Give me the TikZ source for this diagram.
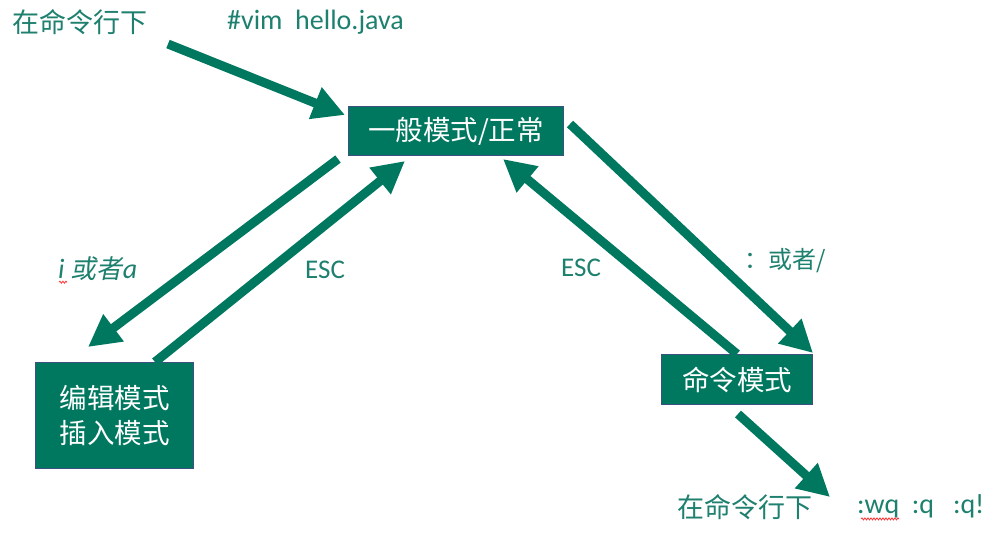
\documentclass[tikz,border=0pt]{standalone}
\usepackage{fontspec}
\setmainfont{Carlito}
\newfontfamily\cjk{Noto Sans CJK SC}
\newfontfamily\cjkit{Noto Sans CJK SC}[FakeSlant=0.2]
\usetikzlibrary{arrows.meta,decorations.pathmorphing,calc}
\definecolor{teal1}{RGB}{0,120,96}
\definecolor{txt}{RGB}{30,128,110}
\definecolor{edge}{RGB}{60,80,130}
\tikzset{
  modebox/.style={draw=edge, line width=1pt, fill=teal1, text=white, inner sep=0pt, anchor=north west},
  bigarrow/.style={draw=teal1, line width=9pt, -{Triangle[length=32pt,width=32pt]}},
  lbl/.style={text=txt, inner sep=0pt, anchor=west},
  squig/.style={draw=red!80, line width=0.8pt, decorate, decoration={snake, amplitude=1pt, segment length=3pt}}
}
\begin{document}
\begin{tikzpicture}[x=1pt,y=-1pt]
\path[use as bounding box, fill=white] (0,0) rectangle (999,536);

% boxes
\node[modebox, minimum width=215pt, minimum height=49pt, font=\cjk\fontsize{27.5}{30}\selectfont] (gen) at (348,106) {一般模式/正常};
\node[modebox, minimum width=158pt, minimum height=106pt, align=center, font=\cjk\fontsize{27.5}{35}\selectfont] (edit) at (35,362) {编辑模式\\插入模式};
\node[modebox, minimum width=151pt, minimum height=50pt, font=\cjk\fontsize{27.5}{30}\selectfont] (cmd) at (661,354) {命令模式};

% labels
\node[lbl, font=\cjk\fontsize{27}{30}\selectfont] (t1) at (12,22) {在命令行下};
\node[lbl, font=\fontsize{28}{32}\selectfont] (t2) at (227,22) {\#vim\ \ hello.java};
\node[lbl, font=\fontsize{28}{32}\selectfont\itshape] (t3) at (58,269) {i \cjkit\fontsize{26}{30}\selectfont 或者\normalfont\fontsize{28}{32}\selectfont\itshape a};
\node[lbl, font=\fontsize{27}{30}\selectfont] (t4) at (305,270) {ESC};
\node[lbl, font=\fontsize{27}{30}\selectfont] (t5) at (561,268) {ESC};
\node[lbl, font=\cjk\fontsize{24}{28}\selectfont] (t6) at (744,261) {：或者/};
\node[lbl, font=\cjk\fontsize{27}{30}\selectfont] (t7) at (677,507) {在命令行下};
\node[lbl, font=\fontsize{28}{32}\selectfont] (t8) at (857,506) {:wq\ \ :q\ \ \ :q!};

% spell-check squiggles
\draw[squig] ($(t3.south west)+(1,1)$) -- ++(8,0);
\draw[squig] ($(t8.south west)+(4,1)$) -- ++(38,0);

% arrow end points
\coordinate (a1s) at (168,44);
\coordinate (a1e) at ($(gen.north west)+(-3,9)$);
\coordinate (a2s) at ($(gen.south west)+(-10,3)$);
\coordinate (a2e) at ($(edit.north west)+(53,-15)$);
\coordinate (a3s) at ($(edit.north west)+(120,0)$);
\coordinate (a3e) at ($(gen.south west)+(57,5)$);
\coordinate (a4s) at ($(cmd.north west)+(76,0)$);
\coordinate (a4e) at ($(gen.south west)+(155,3)$);
\coordinate (a5s) at ($(gen.north east)+(6,18)$);
\coordinate (a5e) at ($(cmd.north east)+(0,-1)$);
\coordinate (a6s) at ($(cmd.south west)+(77,9)$);
\coordinate (a6e) at (830,497);

% arrows
\draw[bigarrow] (a1s) -- (a1e);
\draw[bigarrow] (a2s) -- (a2e);
\draw[bigarrow] (a3s) -- (a3e);
\draw[bigarrow] (a4s) -- (a4e);
\draw[bigarrow] (a5s) -- (a5e);
\draw[bigarrow] (a6s) -- (a6e);
\end{tikzpicture}
\end{document}
